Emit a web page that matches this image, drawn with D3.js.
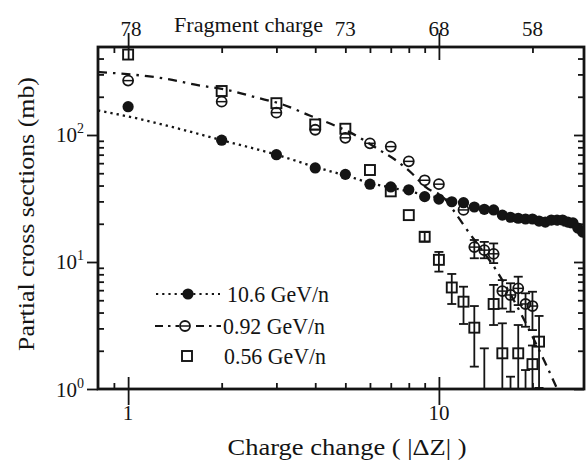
<!DOCTYPE html>
<html><head><meta charset="utf-8">
<script src="https://cdn.jsdelivr.net/npm/d3@7"></script>
<style>body{margin:0;background:#fff}svg{display:block}</style>
</head><body>
<svg id="c" width="586" height="468"></svg>
<script>
// ---------- data ----------
const dz106 = [1,2,3,4,5,6,7,8,9,10,11,12,13,14,15,16,17,18,19,20,21,22,23,24,25,26,27,28,29];
const val106 = [167,91,70,55,49,41,39,37,32.7,31.3,29.8,29.3,27.1,26.0,25.7,23.4,22.5,22.1,21.8,21.8,21.0,20.6,21.4,21.4,21.4,20.6,20.3,18.5,17.2];

const dz092 = [1,2,3,4,5,6,7,8,9,10,12,13,14,15,16,17,18,19,20];
const val092 = [268,183,150,110,95,86,81,62,44,41,25.7,13.1,12.4,11.6,5.9,5.5,6.2,4.67,4.5];
const lo092  = [null,null,null,null,null,null,null,null,null,null,null,10.7,10.7,9.8,4.3,4.06,4.58,3.09,2.91];
const hi092  = [null,null,null,null,null,null,null,null,null,null,null,14.9,14.4,14.0,7.2,6.8,7.66,5.67,5.83];

const dz056 = [1,2,3,4,5,6,7,8,9,10,11,12,13,14,15,16,17,18,19,20,21];
const val056 = [430,222,178,121,112,53,36,23.4,15.8,10.4,6.3,4.87,3.04,0.5,4.67,1.91,0.5,1.91,0.5,1.57,2.36];
const lo056  = [null,null,null,null,null,null,null,null,14.5,8.4,4.67,3.25,1.5,0.3,3.19,0.3,0.3,0.3,0.3,0.3,1.02];
const hi056  = [null,null,null,null,null,null,null,null,17.2,12.0,8.05,6.39,4.5,2.09,6.6,3.29,1.25,3.19,1.41,2.2,3.76];

const fit106Dz  = [0.8,1,1.5,2,3,4,5,6,8,10,13,16,20,25,29.3];
const fit106Val = [156,140,110,91,70,56,48,42,36,32,27.5,24,21.5,19.5,17.5];

const fit092Dz  = [0.8,0.95,1.29,1.69,2.11,2.57,3.12,3.82,4.69,5.25,6.56,7.25,8.18,9.05,10.5,11,12.2,15.3,22,24.5];
const fit092Val = [313,304,280,246,225,198,175,143,117,103,74,63.5,50,39,31,26.6,18.5,8.6,1.6,0.9];

const xMajor = [1,10];
const xMinor = [0.9,2,3,4,5,6,7,8,9,20];
const xLabels = ["1","10"];
const topTickVals = [1,5,10,20];
const topLabels = ["78","73","68","58"];
const yMajor = [1,10,100];
const yMinor = [2,3,4,5,6,7,8,9,20,30,40,50,60,70,80,90,200,300,400];
const yExp = ["0","1","2"];
const seriesNames = ["10.6 GeV/n","0.92 GeV/n","0.56 GeV/n"];

// ---------- layout ----------
const L=98,R=584,T=47,B=389;
const ink='#141414';
const FONT='"Liberation Serif","Times New Roman",serif';
const x=d3.scaleLog().domain([0.8,29.3]).range([L,R]);
const y=d3.scaleLog().domain([1,493]).range([B,T]);
const svg=d3.select('#c');
svg.append('rect').attr('width',586).attr('height',468).attr('fill','#fff');
svg.append('defs').append('clipPath').attr('id','clip').append('rect')
  .attr('x',L).attr('y',T).attr('width',R-L).attr('height',B-T);
const plot=svg.append('g').attr('clip-path','url(#clip)');

// fit lines
const line=d3.line().x(d=>x(d[0])).y(d=>y(d[1])).curve(d3.curveMonotoneX);
plot.append('path').datum(d3.zip(fit106Dz,fit106Val)).attr('d',line)
  .attr('fill','none').attr('stroke',ink).attr('stroke-width',2.3).attr('stroke-dasharray','2.3,4');
plot.append('path').datum(d3.zip(fit092Dz,fit092Val)).attr('d',line)
  .attr('fill','none').attr('stroke',ink).attr('stroke-width',2.3).attr('stroke-dasharray','9,6,2.5,6');

// error bars
function errbars(dzs,lo,hi){
  const g=plot.append('g').attr('stroke',ink).attr('stroke-width',1.8);
  dzs.forEach((d,i)=>{
    if(lo[i]==null) return;
    const cx=x(d);
    g.append('line').attr('x1',cx).attr('x2',cx).attr('y1',y(lo[i])).attr('y2',y(hi[i]));
    g.append('line').attr('x1',cx-4.5).attr('x2',cx+4.5).attr('y1',y(lo[i])).attr('y2',y(lo[i]));
    g.append('line').attr('x1',cx-4.5).attr('x2',cx+4.5).attr('y1',y(hi[i])).attr('y2',y(hi[i]));
  });
}
errbars(dz092,lo092,hi092);
errbars(dz056,lo056,hi056);

// markers
function filled(g,cx,cy){ g.append('circle').attr('cx',cx).attr('cy',cy).attr('r',5.6).attr('fill',ink); }
function theta(g,cx,cy){
  g.append('circle').attr('cx',cx).attr('cy',cy).attr('r',5).attr('fill','none').attr('stroke',ink).attr('stroke-width',1.8);
  g.append('line').attr('x1',cx-5).attr('x2',cx+5).attr('y1',cy).attr('y2',cy).attr('stroke',ink).attr('stroke-width',1.5);
}
function square(g,cx,cy){
  g.append('rect').attr('x',cx-5).attr('y',cy-5).attr('width',10).attr('height',10).attr('fill','none').attr('stroke',ink).attr('stroke-width',1.9);
}
const mk=plot.append('g');
dz106.forEach((d,i)=>filled(mk,x(d),y(val106[i])));
dz092.forEach((d,i)=>theta(mk,x(d),y(val092[i])));
dz056.forEach((d,i)=>square(mk,x(d),y(val056[i])));

// axes
function ax(gen,tx,ty){
  const g=svg.append('g').attr('transform',`translate(${tx},${ty})`).call(gen);
  g.select('.domain').remove(); g.selectAll('text').remove();
  g.selectAll('line').attr('stroke',ink).attr('stroke-width',1.8);
  return g;
}
ax(d3.axisTop(x).tickValues(xMinor).tickSize(6),0,B);
ax(d3.axisBottom(x).tickValues(xMajor).tickSize(16),0,B);
ax(d3.axisTop(x).tickValues(xMajor).tickSize(12),0,B);
ax(d3.axisBottom(x).tickValues(xMinor).tickSize(6),0,T);
ax(d3.axisTop(x).tickValues(xMajor).tickSize(14),0,T);
ax(d3.axisBottom(x).tickValues(xMajor).tickSize(13),0,T);
ax(d3.axisRight(y).tickValues(yMinor).tickSize(6),L,0);
ax(d3.axisLeft(y).tickValues(yMajor).tickSize(11),L,0);
ax(d3.axisLeft(y).tickValues(yMinor).tickSize(6),R,0);
ax(d3.axisLeft(y).tickValues(yMajor).tickSize(10),R,0);

// frame
svg.append('rect').attr('x',L).attr('y',T).attr('width',R-L).attr('height',B-T)
  .attr('fill','none').attr('stroke',ink).attr('stroke-width',2.8);

// tick labels
const txt=svg.append('g').attr('fill',ink).style('font-family',FONT);
xMajor.forEach((v,i)=>txt.append('text').attr('x',x(v)).attr('y',420).attr('text-anchor','middle').attr('font-size',21).text(xLabels[i]));
topTickVals.forEach((v,i)=>txt.append('text').attr('x',x(v)+(i==0?3:0)).attr('y',36).attr('text-anchor','middle').attr('font-size',21).text(topLabels[i]));
yMajor.forEach((v,i)=>{
  const t=txt.append('text').attr('x',84).attr('y',y(v)+7.5).attr('text-anchor','end').attr('font-size',21);
  t.append('tspan').text('10');
  t.append('tspan').attr('dy',-9).attr('font-size',14).text(yExp[i]);
});

// axis titles
txt.append('text').attr('x',174).attr('y',32).attr('font-size',22).attr('textLength',149).attr('lengthAdjust','spacingAndGlyphs').text('Fragment charge');
txt.append('text').attr('x',347).attr('y',455).attr('text-anchor','middle').attr('font-size',24)
  .attr('textLength',239).attr('lengthAdjust','spacingAndGlyphs').text('Charge change ( |ΔZ| )');
txt.append('text').attr('transform','translate(34,214) rotate(-90)').attr('text-anchor','middle').attr('font-size',24)
  .attr('textLength',274).attr('lengthAdjust','spacingAndGlyphs').text('Partial cross sections (mb)');

// legend
const lg=svg.append('g');
const rows=[294,326,356];
lg.append('line').attr('x1',156).attr('x2',220).attr('y1',rows[0]).attr('y2',rows[0]).attr('stroke',ink).attr('stroke-width',2.2).attr('stroke-dasharray','2.2,4');
filled(lg,188,rows[0]);
lg.append('line').attr('x1',155).attr('x2',221).attr('y1',rows[1]).attr('y2',rows[1]).attr('stroke',ink).attr('stroke-width',2.2).attr('stroke-dasharray','8,5,2.5,5');
lg.append('rect').attr('x',179).attr('y',rows[1]-7).attr('width',13).attr('height',14).attr('fill','#fff');
theta(lg,185,rows[1]);
square(lg,187,rows[2]);
seriesNames.forEach((s,i)=>lg.append('text').attr('x',[227,223,224][i]).attr('y',rows[i]+8).attr('font-size',23)
  .attr('textLength',102).attr('lengthAdjust','spacingAndGlyphs').attr('fill',ink).style('font-family',FONT).text(s));
</script>
</body></html>
